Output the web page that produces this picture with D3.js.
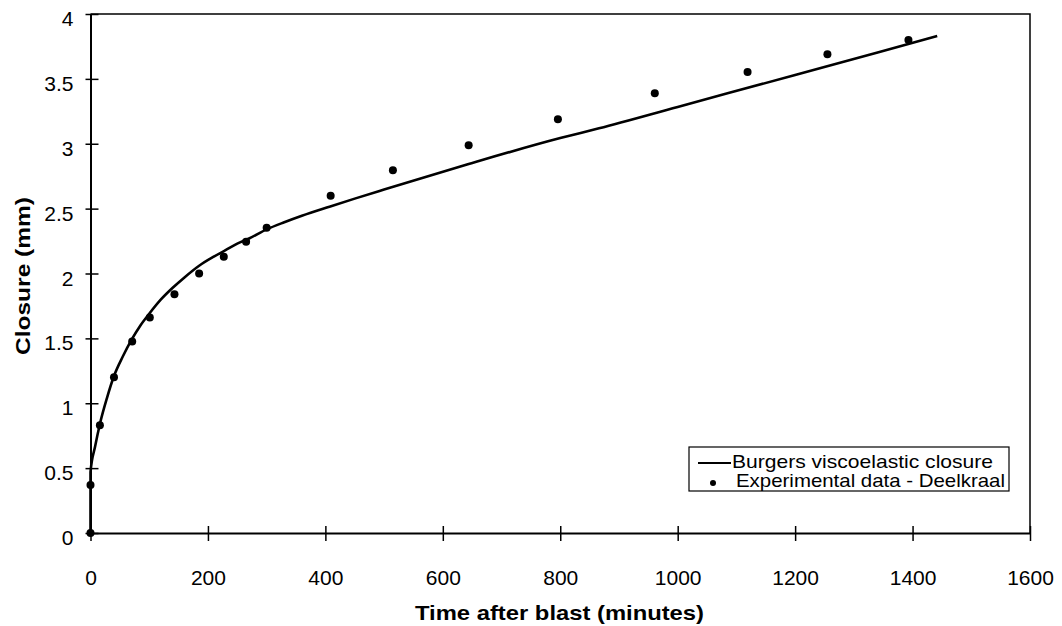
<!DOCTYPE html>
<html>
<head>
<meta charset="utf-8">
<script src="https://cdn.jsdelivr.net/npm/d3@7"></script>
<style>
  body { margin: 0; background: #fff; }
  text { font-family: "Liberation Sans", Arial, Helvetica, sans-serif; fill: #000; }
</style>
</head>
<body>
<div id="chart"></div>
<script>
// tick labels
const xTicks = [0, 200, 400, 600, 800, 1000, 1200, 1400, 1600];
const yTicks = [0, 0.5, 1, 1.5, 2, 2.5, 3, 3.5, 4];

// experimental data - Deelkraal (time in minutes, closure in mm)
const expTime    = [0, 0, 16, 40, 71, 101, 143, 185, 227, 265, 300, 409, 515, 644, 796, 961, 1119, 1255, 1393];
const expClosure = [0, 0.37, 0.83, 1.2, 1.475, 1.66, 1.84, 2.0, 2.13, 2.245, 2.353, 2.6, 2.795, 2.988, 3.188, 3.389, 3.553, 3.689, 3.8];

// burgers viscoelastic closure curve
const modelTime    = [0, 0, 8, 16, 28, 40, 55, 70, 85, 100, 120, 140, 160, 185, 210, 230, 250, 270, 300, 330, 360, 407, 450, 500, 644, 800, 866, 1000, 1200, 1342, 1442];
const modelClosure = [0, 0.47, 0.67, 0.84, 1.04, 1.21, 1.36, 1.49, 1.6, 1.69, 1.8, 1.89, 1.97, 2.06, 2.13, 2.18, 2.23, 2.27, 2.34, 2.395, 2.445, 2.515, 2.577, 2.647, 2.844, 3.044, 3.119, 3.284, 3.53, 3.705, 3.83];

const legendLabels = ["Burgers viscoelastic closure", "Experimental data - Deelkraal"];

const W = 1062, H = 626;
const svg = d3.select("#chart").append("svg")
    .attr("width", W)
    .attr("height", H);

const x = d3.scaleLinear().domain([0, 1600]).range([90.5, 1030]);
const y = d3.scaleLinear().domain([0, 4]).range([533, 14]);

// frame (top + right)
svg.append("path")
    .attr("d", `M${x(0)},${y(4)}H${x(1600)}V${y(0)}`)
    .attr("fill", "none")
    .attr("stroke", "#000")
    .attr("stroke-width", 1.5);

// x axis
const gx = svg.append("g")
    .attr("transform", `translate(0,${y(0)})`)
    .call(d3.axisBottom(x).tickValues(xTicks).tickFormat(d3.format("d")).tickSizeOuter(0));
gx.select(".domain").attr("stroke-width", 2);
gx.selectAll(".tick line").attr("y1", -7).attr("y2", 8).attr("stroke-width", 1.5);
gx.selectAll(".tick text")
    .attr("y", 52)
    .attr("dy", 0)
    .style("font-size", "21px");

// y axis
const gy = svg.append("g")
    .attr("transform", `translate(${x(0)},0)`)
    .call(d3.axisLeft(y).tickValues(yTicks).tickFormat(d => d).tickSizeOuter(0));
gy.select(".domain").attr("stroke-width", 2);
gy.selectAll(".tick line").attr("x1", -5).attr("x2", 8).attr("stroke-width", 1.5);
gy.selectAll(".tick text")
    .attr("x", -17)
    .attr("dy", "0.55em")
    .style("font-size", "21px");

// axis titles
svg.append("text")
    .attr("x", 559.5)
    .attr("y", 620)
    .attr("text-anchor", "middle")
    .attr("textLength", 289)
    .attr("lengthAdjust", "spacingAndGlyphs")
    .style("font-size", "21px")
    .style("font-weight", "bold")
    .text("Time after blast (minutes)");

svg.append("text")
    .attr("transform", `translate(30,276) rotate(-90)`)
    .attr("text-anchor", "middle")
    .attr("textLength", 158)
    .attr("lengthAdjust", "spacingAndGlyphs")
    .style("font-size", "21px")
    .style("font-weight", "bold")
    .text("Closure (mm)");

// model line
const line = d3.line()
    .x((d, i) => x(modelTime[i]))
    .y(d => y(d))
    .curve(d3.curveMonotoneX);

svg.append("path")
    .datum(modelClosure)
    .attr("d", line)
    .attr("fill", "none")
    .attr("stroke", "#000")
    .attr("stroke-width", 2.6)
    .attr("stroke-linejoin", "round");

// experimental points
svg.append("g")
  .selectAll("circle")
  .data(expClosure)
  .join("circle")
    .attr("cx", (d, i) => x(expTime[i]))
    .attr("cy", d => y(d))
    .attr("r", 4)
    .attr("fill", "#000");

// legend
const lg = svg.append("g").attr("transform", "translate(689,447)");
lg.append("rect")
    .attr("width", 320)
    .attr("height", 44)
    .attr("fill", "#fff")
    .attr("stroke", "#000")
    .attr("stroke-width", 1.2);
lg.append("line")
    .attr("x1", 9).attr("x2", 42)
    .attr("y1", 16).attr("y2", 16)
    .attr("stroke", "#000")
    .attr("stroke-width", 2);
lg.append("text")
    .attr("x", 43).attr("y", 21)
    .attr("textLength", 261)
    .attr("lengthAdjust", "spacingAndGlyphs")
    .style("font-size", "19px")
    .text(legendLabels[0]);
lg.append("circle")
    .attr("cx", 24).attr("cy", 36)
    .attr("r", 3)
    .attr("fill", "#000");
lg.append("text")
    .attr("x", 47).attr("y", 40)
    .attr("textLength", 269)
    .attr("lengthAdjust", "spacingAndGlyphs")
    .style("font-size", "19px")
    .text(legendLabels[1]);
</script>
</body>
</html>
